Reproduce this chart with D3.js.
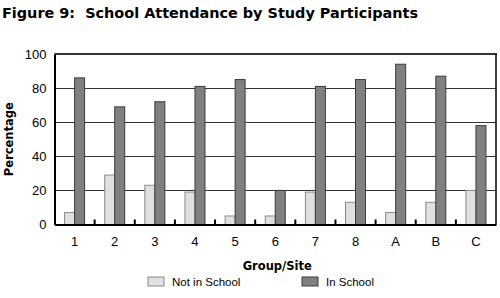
<!DOCTYPE html>
<html>
<head>
<meta charset="utf-8">
<script src="https://cdn.jsdelivr.net/npm/d3@7"></script>
<style>
  body { margin: 0; background: #fff; }
  .tick text { font-family: "Liberation Sans", Arial, sans-serif; font-size: 13px; fill: #000; }
  .legend text { font-family: "Liberation Sans", Arial, sans-serif; font-size: 11.5px; }
  .title { white-space: pre; }
</style>
</head>
<body>
<div id="chart"></div>
<script>
// data
var groups = ['1', '2', '3', '4', '5', '6', '7', '8', 'A', 'B', 'C'];
var notInSchool = [7, 29, 23, 19, 5, 5, 19, 13, 7, 13, 20];
var inSchool = [86, 69, 72, 81, 85, 20, 81, 85, 94, 87, 58];
var seriesNames = ['Not in School', 'In School'];
var yTicks = [0, 20, 40, 60, 80, 100];

(function (d3) {
'use strict';

var width = 500, height = 298;
var plotLeft = 54.5, plotRight = 496, plotTop = 54, plotBottom = 224.5;

var svg = d3.select('#chart').append('svg')
  .attr('width', width)
  .attr('height', height);

var x = d3.scaleBand().domain(groups).range([plotLeft, plotRight]).padding(0);
var y = d3.scaleLinear().domain([0, 100]).range([plotBottom, plotTop]);
var fill = d3.scaleOrdinal().domain(seriesNames).range(['#e0e0e0', '#808080']);
var stroke = d3.scaleOrdinal().domain(seriesNames).range(['#8a8a8a', '#3c3c3c']);

// title
svg.append('text')
  .attr('class', 'title')
  .attr('x', 2).attr('y', 18)
  .attr('textLength', 416)
  .attr('lengthAdjust', 'spacingAndGlyphs')
  .style('font-family', '"DejaVu Sans", sans-serif')
  .style('font-weight', 'bold')
  .style('font-size', '14px')
  .text('Figure 9:  School Attendance by Study Participants');

// gridlines
svg.append('g').selectAll('line')
  .data(yTicks.filter(function(d){ return d > 0 && d < 100; }))
  .enter().append('line')
  .attr('x1', plotLeft).attr('x2', plotRight)
  .attr('y1', function(d){ return Math.round(y(d)) + 0.5; })
  .attr('y2', function(d){ return Math.round(y(d)) + 0.5; })
  .attr('stroke', '#333').attr('stroke-width', 1);

// frame top/right
svg.append('line').attr('x1', plotLeft).attr('x2', plotRight + 1).attr('y1', plotTop).attr('y2', plotTop)
  .attr('stroke', '#333').attr('stroke-width', 2);
svg.append('line').attr('x1', plotRight).attr('x2', plotRight).attr('y1', plotTop).attr('y2', plotBottom)
  .attr('stroke', '#000').attr('stroke-width', 1.5);

// bars
var rows = groups.map(function(g, i){
  return [
    { group: g, name: seriesNames[0], value: notInSchool[i] },
    { group: g, name: seriesNames[1], value: inSchool[i] }
  ];
});
var barW = 10;
var gGroups = svg.append('g').selectAll('g')
  .data(rows).enter().append('g')
  .attr('transform', function(d){ return 'translate(' + (x(d[0].group) + x.bandwidth() / 2) + ',0)'; });

gGroups.selectAll('rect')
  .data(function(d){ return d; })
  .enter().append('rect')
  .attr('x', function(d, i){ return i === 0 ? -barW : 0; })
  .attr('y', function(d){ return y(d.value); })
  .attr('width', barW)
  .attr('height', function(d){ return plotBottom - y(d.value); })
  .attr('fill', function(d){ return fill(d.name); })
  .attr('stroke', function(d){ return stroke(d.name); })
  .attr('stroke-width', 1);

// y axis
var yAxis = svg.append('g')
  .attr('transform', 'translate(' + plotLeft + ',0)')
  .call(d3.axisLeft(y).tickValues(yTicks).tickSize(0).tickPadding(8));
yAxis.select('.domain').attr('stroke', '#000').attr('stroke-width', 2);

// x axis, ticks between categories pointing up
var xAxis = svg.append('g')
  .attr('transform', 'translate(0,' + plotBottom + ')')
  .call(d3.axisBottom(x).tickSize(0).tickPadding(12));
xAxis.select('.domain').attr('stroke', '#000').attr('stroke-width', 2);

svg.append('g').selectAll('line')
  .data(groups.slice(1))
  .enter().append('line')
  .attr('x1', function(d){ return x(d); })
  .attr('x2', function(d){ return x(d); })
  .attr('y1', plotBottom).attr('y2', plotBottom - 5)
  .attr('stroke', '#000').attr('stroke-width', 2);

// axis titles
svg.append('text')
  .attr('x', (plotLeft + plotRight) / 2 + 2).attr('y', 270)
  .attr('text-anchor', 'middle')
  .style('font-family', '"DejaVu Sans", sans-serif')
  .style('font-weight', 'bold').style('font-size', '11.5px')
  .text('Group/Site');

svg.append('text')
  .attr('transform', 'translate(13,' + (plotTop + plotBottom) / 2 + ') rotate(-90)')
  .attr('text-anchor', 'middle')
  .style('font-family', '"DejaVu Sans", sans-serif')
  .style('font-weight', 'bold').style('font-size', '11.5px')
  .text('Percentage');

// legend
var legendX = [148, 302];
var legend = svg.selectAll('.legend')
  .data(seriesNames).enter().append('g')
  .attr('class', 'legend')
  .attr('transform', function(d, i){ return 'translate(' + legendX[i] + ',277)'; });

legend.append('rect')
  .attr('width', 16).attr('height', 9)
  .attr('fill', fill)
  .attr('stroke', stroke);

legend.append('text')
  .attr('x', 24).attr('y', 9)
  .text(function(d){ return d; });

})(window.d3);
</script>
</body>
</html>
